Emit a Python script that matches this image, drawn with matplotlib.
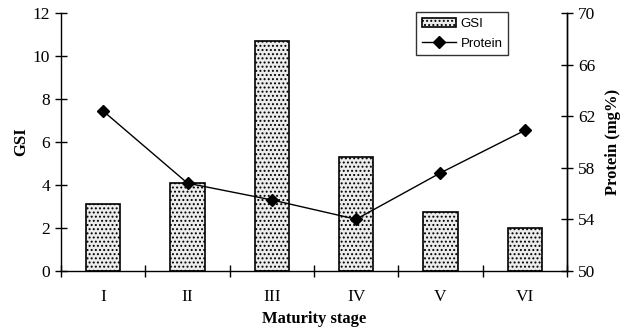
import matplotlib.pyplot as plt
import numpy as np

stages = ["I", "II", "III", "IV", "V", "VI"]
gsi = [3.1, 4.1, 10.7, 5.3, 2.75, 2.0]
protein = [62.4, 56.8, 55.5, 54.0, 57.6, 60.9]

plt.rcParams["font.family"] = "Liberation Serif"
plt.rcParams["hatch.linewidth"] = 0.9

fig = plt.figure(figsize=(6.27, 3.29), dpi=100)
ax = fig.add_axes([0.0973, 0.177, 0.807, 0.783])
ax2 = ax.twinx()

x = np.arange(len(stages))
bars = ax.bar(x, gsi, width=0.41, facecolor="#ececec", edgecolor="black",
              hatch="....", linewidth=1.2, label="GSI")
line, = ax2.plot(x, protein, color="black", lw=1, marker="D", ms=6,
                 label="Protein")

ax.set_xlim(-0.5, 5.5)
ax.set_ylim(0, 12)
ax.set_yticks(range(0, 13, 2))
ax2.set_ylim(50, 70)
ax2.set_yticks([50, 54, 58, 62, 66, 70])

ax.set_xticks(np.arange(0, 7) - 0.5)
ax.set_xticklabels([])
ax.set_xticks(x, minor=True)
ax.set_xticklabels(stages, minor=True)
ax.tick_params(axis="x", which="minor", length=0, pad=13, labelsize=12.5)
ax.tick_params(axis="x", which="major", direction="inout", length=8, width=1)
ax.tick_params(axis="y", direction="inout", length=8, width=1, labelsize=12.5, pad=4)
ax2.tick_params(axis="y", direction="inout", length=8, width=1, labelsize=12.5, pad=4)

for a in (ax, ax2):
    a.spines["top"].set_visible(False)
    for s in a.spines.values():
        s.set_linewidth(1)
ax2.spines["left"].set_visible(False)
ax2.spines["bottom"].set_visible(False)

ax.set_xlabel("Maturity stage", fontweight="bold", fontsize=12)
ax.set_ylabel("GSI", fontweight="bold", fontsize=12)
ax2.set_ylabel("Protein (mg%)", fontweight="bold", fontsize=12)
ax.xaxis.set_label_coords(0.5, -0.157)
ax.yaxis.set_label_coords(-0.063, 0.5)
ax2.yaxis.set_label_coords(1.075, 0.5)

leg = ax.legend([bars, line], ["GSI", "Protein"], loc="upper left",
                bbox_to_anchor=(0.702, 1.005), frameon=True, fancybox=False,
                edgecolor="black", prop={"family": "Liberation Sans", "size": 9.5},
                handlelength=2.6, handletextpad=0.3, borderpad=0.45,
                labelspacing=0.55, borderaxespad=0)
leg.get_frame().set_linewidth(1)

fig.savefig("out.png", dpi=100)
